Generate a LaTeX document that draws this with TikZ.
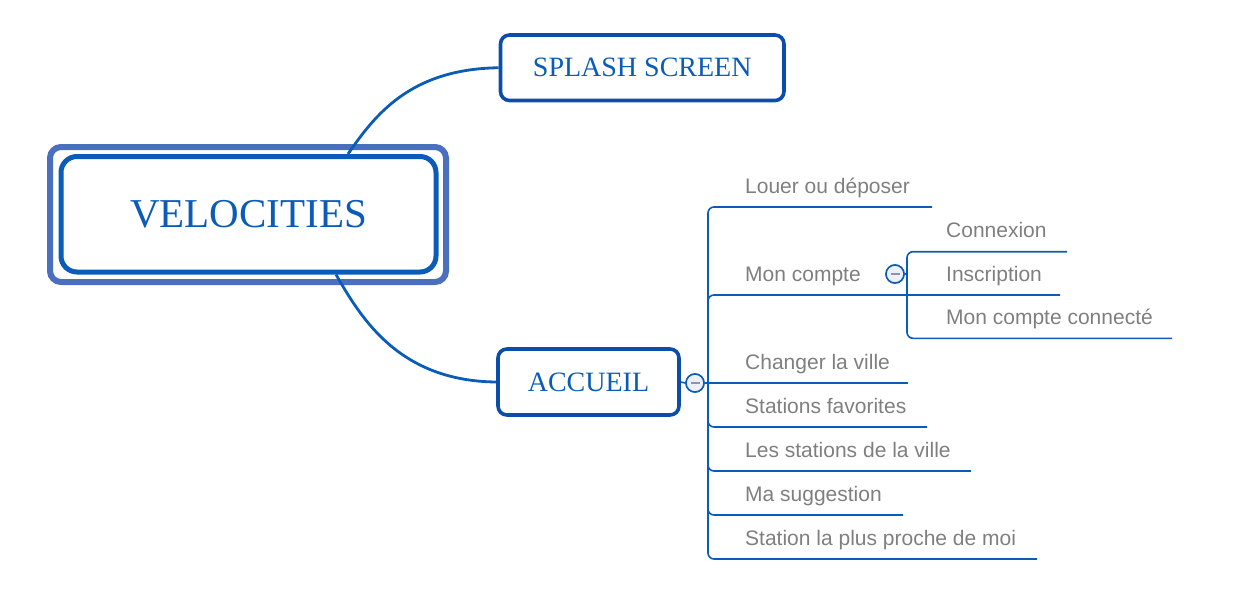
\documentclass[tikz,border=0pt]{standalone}
\usepackage{fontspec}
\setmainfont{Liberation Serif}
\newfontfamily\itemfont{Liberation Sans}
\definecolor{cblue}{HTML}{0A5CB8}
\definecolor{cborder}{HTML}{0B4DA8}
\definecolor{cframe}{HTML}{4A6FBE}
\definecolor{ctext}{HTML}{0A5CB8}
\definecolor{cgray}{HTML}{7F7F7F}
\definecolor{ctog}{HTML}{EEF0F8}
\definecolor{cminus}{HTML}{8A93B8}
\begin{document}
\begin{tikzpicture}[x=1pt,y=-1pt,
  branch/.style={draw=cblue, line width=1.6pt, rounded corners=6pt},
  curveline/.style={draw=cblue, line width=2.8pt},
  topic/.style={draw=cborder, line width=3.6pt, rounded corners=9pt, fill=white, text=ctext,
    font=\fontsize{28}{32}\selectfont, inner sep=0pt},
  item/.style={anchor=base west, text=cgray, font=\itemfont\fontsize{21}{24}\selectfont, inner sep=0pt},
  toggle/.style={circle, draw=cblue, line width=1.5pt, fill=ctog, minimum size=18pt, inner sep=0pt,
    path picture={\draw[cminus, line width=2pt] ([xshift=-4.5pt]path picture bounding box.center) -- ([xshift=4.5pt]path picture bounding box.center);}}
]
\useasboundingbox (0,0) rectangle (1244,602);

% central topic
\node[draw=cframe, line width=6pt, rounded corners=11pt, minimum width=396pt, minimum height=135pt] (frame) at (248,214.5) {};
\node[draw=cblue, line width=5pt, rounded corners=16pt, fill=white, minimum width=375pt, minimum height=115.5pt,
  text=ctext, font=\fontsize{41}{48}\selectfont] (vel) at (248.5,214.25) {VELOCITIES};

% main topics
\node[topic, minimum width=283.5pt, minimum height=65.5pt] (splash) at (642.25,67.75) {SPLASH SCREEN};
\node[topic, minimum width=181pt, minimum height=66pt] (accueil) at (588.5,382) {ACCUEIL};

% curves from the central topic
\coordinate (vt) at ([xshift=99.5pt]vel.north);
\coordinate (vb) at ([xshift=87.5pt]vel.south);
\draw[curveline] (vt) .. controls (375,115) and (410,69) .. (splash.west);
\draw[curveline] (vb) .. controls (362,320) and (400,381) .. (accueil.west);

% toggles
\node[toggle] (tgA) at (695,383) {};
\node[toggle] (tgM) at (895,274) {};

% items
\node[item] (i1) at (745,193) {Louer ou déposer};
\node[item] (i2) at (745,281) {Mon compte};
\node[item] (i3) at (745,369) {Changer la ville};
\node[item] (i4) at (745,413) {Stations favorites};
\node[item] (i5) at (745,457) {Les stations de la ville};
\node[item] (i6) at (745,501) {Ma suggestion};
\node[item] (i7) at (745,545) {Station la plus proche de moi};
\node[item] (s1) at (946,237.5) {Connexion};
\node[item] (s2) at (946,281) {Inscription};
\node[item] (s3) at (946,324.5) {Mon compte connecté};

% trunk coordinates
\coordinate (a1) at (708,207);   \coordinate (e1) at (932,207);
\coordinate (a2) at (708,295);   \coordinate (e2) at (1060,295);
\coordinate (a3) at (708,383);   \coordinate (e3) at (908,383);
\coordinate (a4) at (708,427);   \coordinate (e4) at (927,427);
\coordinate (a5) at (708,471);   \coordinate (e5) at (971,471);
\coordinate (a6) at (708,515);   \coordinate (e6) at (903,515);
\coordinate (a7) at (708,559);   \coordinate (e7) at (1037,559);
\coordinate (b1) at (907,251.7); \coordinate (f1) at (1067,251.7);
\coordinate (b3) at (907,338.3); \coordinate (f3) at (1172,338.3);
\coordinate (bm) at (907,274);

% connectors
\draw[branch, rounded corners=0pt] (accueil.east) -- (tgA.west);
\draw[branch, rounded corners=0pt] (tgA.east) -- (e3);
\draw[branch] (e1) -- (a1) -- (a7) -- (e7);
\draw[branch] (e2) -- (a2) -- ([yshift=-15pt]a2);
\draw[branch] ([yshift=15pt]a4) -- (a4) -- (e4);
\draw[branch] ([yshift=15pt]a5) -- (a5) -- (e5);
\draw[branch] ([yshift=15pt]a6) -- (a6) -- (e6);
\draw[branch] (f1) -- (b1) -- (b3) -- (f3);
\draw[branch, rounded corners=0pt] (tgM.east) -- (bm);
\node[toggle] at (tgA) {};
\node[toggle] at (tgM) {};
\end{tikzpicture}
\end{document}
